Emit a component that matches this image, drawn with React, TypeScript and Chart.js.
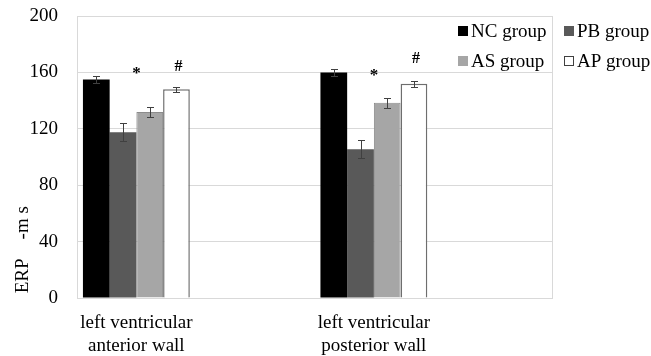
import React, { useEffect, useRef } from "react";
import { Chart, registerables } from "chart.js";

Chart.register(...registerables);

const categories: string[][] = [
  ["left ventricular", "anterior wall"],
  ["left ventricular", "posterior wall"],
];
const seriesNames = ["NC group", "PB group", "AS group", "AP group"];
const ncValues = [155, 160];
const pbValues = [117.5, 105.5];
const asValues = [132, 138.5];
const apValues = [148, 152];
const ncErrors = [2.6, 2.5];
const pbErrors = [6.5, 6.3];
const asErrors = [3.5, 3.5];
const apErrors = [2, 2];
const starLevels = [159, 158];
const hashLevels = [164, 169.5];
const yTicksMin = 0;
const yTicksMax = 200;
const yTickStep = 40;

const FONT = "'Liberation Serif', 'Times New Roman', serif";

export default function App() {
  const ref = useRef<HTMLCanvasElement | null>(null);

  useEffect(() => {
    document.body.style.margin = "0";
    const canvas = ref.current;
    if (!canvas) return;

    // Each category occupies every other slot of the axis (Excel-like spacing)
    const slotLabels: (string[] | string)[] = [];
    categories.forEach((c) => {
      slotLabels.push(c);
      slotLabels.push("");
    });
    const toSlots = (vals: number[]) => {
      const out: (number | null)[] = [];
      vals.forEach((v) => {
        out.push(v);
        out.push(null);
      });
      return out;
    };

    const values = [ncValues, pbValues, asValues, apValues];
    const errors = [ncErrors, pbErrors, asErrors, apErrors];
    const fills = ["#000000", "#595959", "#a6a6a6", "#ffffff"];
    const borders = ["#000000", "#595959", "#8c8c8c", "#6e6e6e"];

    const errorPlugin = {
      id: "errorBars",
      afterDatasetsDraw(chart: any) {
        const ctx = chart.ctx;
        const y = chart.scales.y;
        ctx.save();
        ctx.strokeStyle = "#404040";
        ctx.lineWidth = 1;
        values.forEach((vals, i) => {
          const meta = chart.getDatasetMeta(i);
          vals.forEach((v, c) => {
            const el = meta.data[c * 2];
            if (!el) return;
            const x = Math.round(el.x) + 0.5;
            const e = errors[i][c];
            const yt = Math.round(y.getPixelForValue(v + e)) + 0.5;
            const yb = Math.round(y.getPixelForValue(v - e)) + 0.5;
            ctx.beginPath();
            ctx.moveTo(x, yt);
            ctx.lineTo(x, yb);
            ctx.moveTo(x - 3.5, yt);
            ctx.lineTo(x + 3.5, yt);
            ctx.moveTo(x - 3.5, yb);
            ctx.lineTo(x + 3.5, yb);
            ctx.stroke();
          });
        });
        // significance marks
        ctx.fillStyle = "#000";
        ctx.textAlign = "center";
        ctx.textBaseline = "middle";
        categories.forEach((_, c) => {
          const pb = chart.getDatasetMeta(1).data[c * 2];
          const as = chart.getDatasetMeta(2).data[c * 2];
          const ap = chart.getDatasetMeta(3).data[c * 2];
          if (pb && as) {
            ctx.font = `bold 17px ${FONT}`;
            ctx.fillText("*", (pb.x + as.x) / 2, y.getPixelForValue(starLevels[c]));
          }
          if (ap) {
            ctx.font = `bold 16px ${FONT}`;
            ctx.fillText("#", ap.x + 2, y.getPixelForValue(hashLevels[c]));
          }
        });
        ctx.restore();
      },
      afterDraw(chart: any) {
        const ctx = chart.ctx;
        const a = chart.chartArea;
        ctx.save();
        ctx.strokeStyle = "#d9d9d9";
        ctx.lineWidth = 1;
        ctx.beginPath();
        ctx.moveTo(Math.round(a.right) + 0.5, a.top);
        ctx.lineTo(Math.round(a.right) + 0.5, a.bottom);
        ctx.stroke();

        // legend
        const cols = [458, 564];
        const rows = [31, 61];
        ctx.font = `19px ${FONT}`;
        ctx.textBaseline = "middle";
        ctx.textAlign = "left";
        chart.data.datasets.forEach((ds: any, i: number) => {
          const bx = cols[i % 2];
          const by = rows[Math.floor(i / 2)];
          ctx.fillStyle = ds.backgroundColor;
          ctx.fillRect(bx, by - 5, 10, 10);
          if (i === 3) {
            ctx.strokeStyle = "#404040";
            ctx.strokeRect(bx + 0.5, by - 4.5, 9, 9);
          }
          ctx.fillStyle = "#000";
          ctx.fillText(ds.label, bx + 13, by + 1);
        });
        ctx.restore();
      },
    };

    const chart = new Chart(canvas, {
      type: "bar",
      data: {
        labels: slotLabels as any,
        datasets: seriesNames.map((name, i) => ({
          label: name,
          data: toSlots(values[i]),
          backgroundColor: fills[i],
          borderColor: borders[i],
          borderWidth: i === 3 ? 1.5 : i === 2 ? 1 : 0,
          categoryPercentage: 0.9,
          barPercentage: 1,
        })),
      },
      options: {
        responsive: false,
        animation: false,
        devicePixelRatio: 1,
        layout: { padding: { top: 16, right: 99, left: 0, bottom: 0 } },
        plugins: {
          legend: { display: false },
          tooltip: { enabled: false },
        },
        scales: {
          x: {
            grid: { display: false, drawTicks: false },
            border: { color: "#d9d9d9" },
            ticks: {
              color: "#000",
              font: { family: FONT, size: 19 },
              padding: 14,
              maxRotation: 0,
              autoSkip: false,
            },
            afterFit(s: any) {
              s.height = 58;
            },
          },
          y: {
            min: yTicksMin,
            max: yTicksMax,
            grid: { color: "#d9d9d9", drawTicks: false },
            border: { color: "#d9d9d9" },
            ticks: {
              stepSize: yTickStep,
              color: "#000",
              font: { family: FONT, size: 19 },
              padding: 19,
            },
            title: {
              display: true,
              text: " ERP    -m s",
              align: "start",
              color: "#000",
              font: { family: FONT, size: 19 },
              padding: { top: 12, bottom: 0 },
            },
            afterFit(s: any) {
              s.width = 77;
              s.paddingTop = 0;
              s.paddingBottom = 0;
            },
          },
        },
      },
      plugins: [errorPlugin],
    } as any);

    return () => chart.destroy();
  }, []);

  return (
    <div style={{ width: 651, height: 356 }}>
      <canvas ref={ref} width={651} height={356} style={{ display: "block" }} />
    </div>
  );
}
